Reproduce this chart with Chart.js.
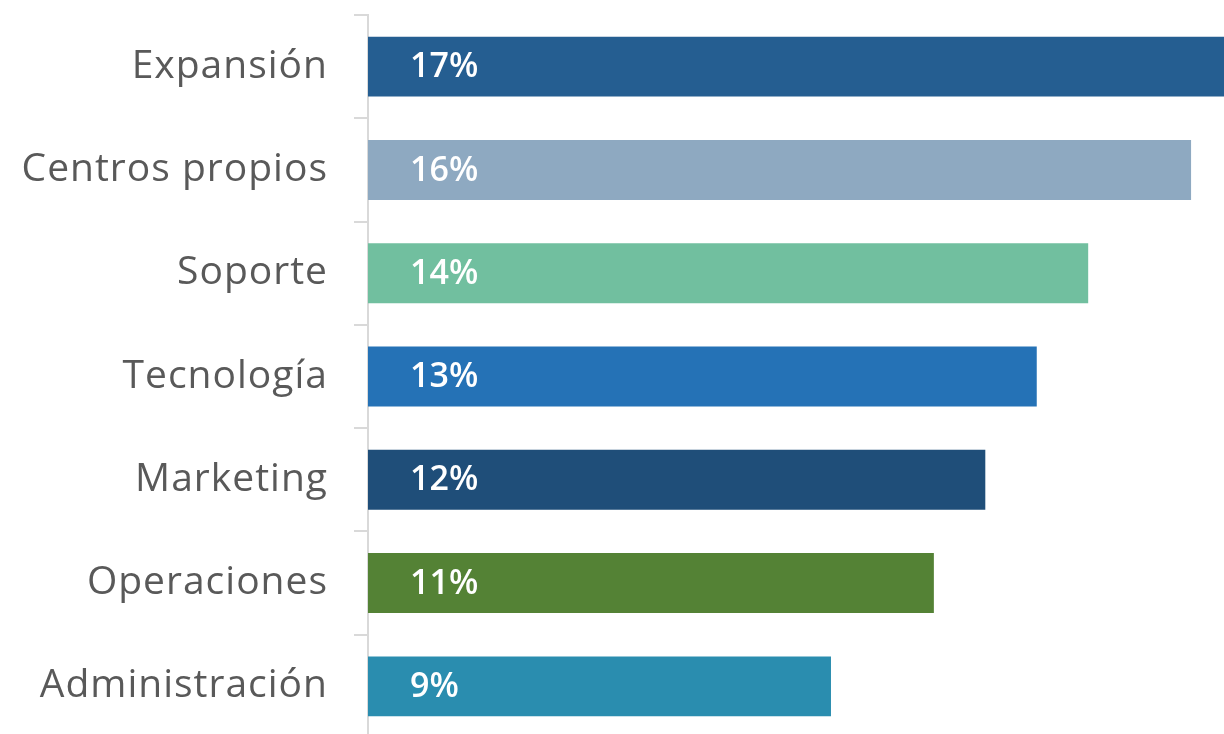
<!DOCTYPE html>
<html>
<head>
<meta charset="utf-8">
<script src="https://cdn.jsdelivr.net/npm/chart.js@4"></script>
<style>
  html, body { margin: 0; padding: 0; background: #ffffff; overflow: hidden; }
  #wrap { width: 1224px; height: 738px; position: relative; }
</style>
</head>
<body>
<div id="wrap"><canvas id="chartGastos"></canvas></div>
<script>
// Datos del gráfico
const categorias = ['Expansión', 'Centros propios', 'Soporte', 'Tecnología', 'Marketing', 'Operaciones', 'Administración'];
const porcentajes = [17, 16, 14, 13, 12, 11, 9];
const colores = ['#255E91', '#8EA9C1', '#71BF9F', '#2572B6', '#1F4E79', '#548235', '#2A8DAF'];

// Espaciado de letras para las etiquetas del eje
const espaciado = {
    id: 'espaciado',
    beforeDraw(chart) {
        chart.ctx.letterSpacing = '1px';
    },
    afterDraw(chart) {
        chart.ctx.letterSpacing = '0px';
    }
};

// Etiquetas blancas dentro de cada barra
const etiquetasBarras = {
    id: 'etiquetasBarras',
    afterDatasetsDraw(chart) {
        const ctx = chart.ctx;
        const meta = chart.getDatasetMeta(0);
        ctx.save();
        ctx.letterSpacing = '0px';
        ctx.fillStyle = '#ffffff';
        ctx.font = '600 34px "Open Sans"';
        ctx.textAlign = 'left';
        ctx.textBaseline = 'middle';
        meta.data.forEach((bar, i) => {
            ctx.fillText(porcentajes[i] + '%', chart.chartArea.left + 42, bar.y + 1);
        });
        ctx.restore();
    }
};

const ctx = document.getElementById('chartGastos').getContext('2d');
new Chart(ctx, {
    type: 'bar',
    data: {
        labels: categorias,
        datasets: [{
            data: porcentajes,
            backgroundColor: colores,
            borderWidth: 0,
            categoryPercentage: 1,
            barPercentage: 0.58
        }]
    },
    options: {
        indexAxis: 'y',
        responsive: true,
        maintainAspectRatio: false,
        animation: false,
        layout: { padding: { top: 15, right: 0, bottom: 0, left: 0 } },
        scales: {
            x: {
                display: false,
                min: 0,
                max: 16.64
            },
            y: {
                afterFit(scale) {
                    // ancho fijo del eje y sin relleno extra arriba/abajo
                    scale.width = 368;
                    scale.paddingTop = 0;
                    scale.paddingBottom = 0;
                },
                grid: {
                    display: true,
                    drawOnChartArea: false,
                    drawTicks: true,
                    tickLength: 14,
                    color: '#d9d9d9',
                    lineWidth: 2
                },
                border: { display: true, color: '#d9d9d9', width: 2 },
                ticks: {
                    color: '#595959',
                    padding: 26,
                    font: { family: '"Open Sans"', size: 39 }
                }
            }
        },
        plugins: {
            legend: { display: false },
            tooltip: { enabled: false }
        }
    },
    plugins: [espaciado, etiquetasBarras]
});
</script>
</body>
</html>
